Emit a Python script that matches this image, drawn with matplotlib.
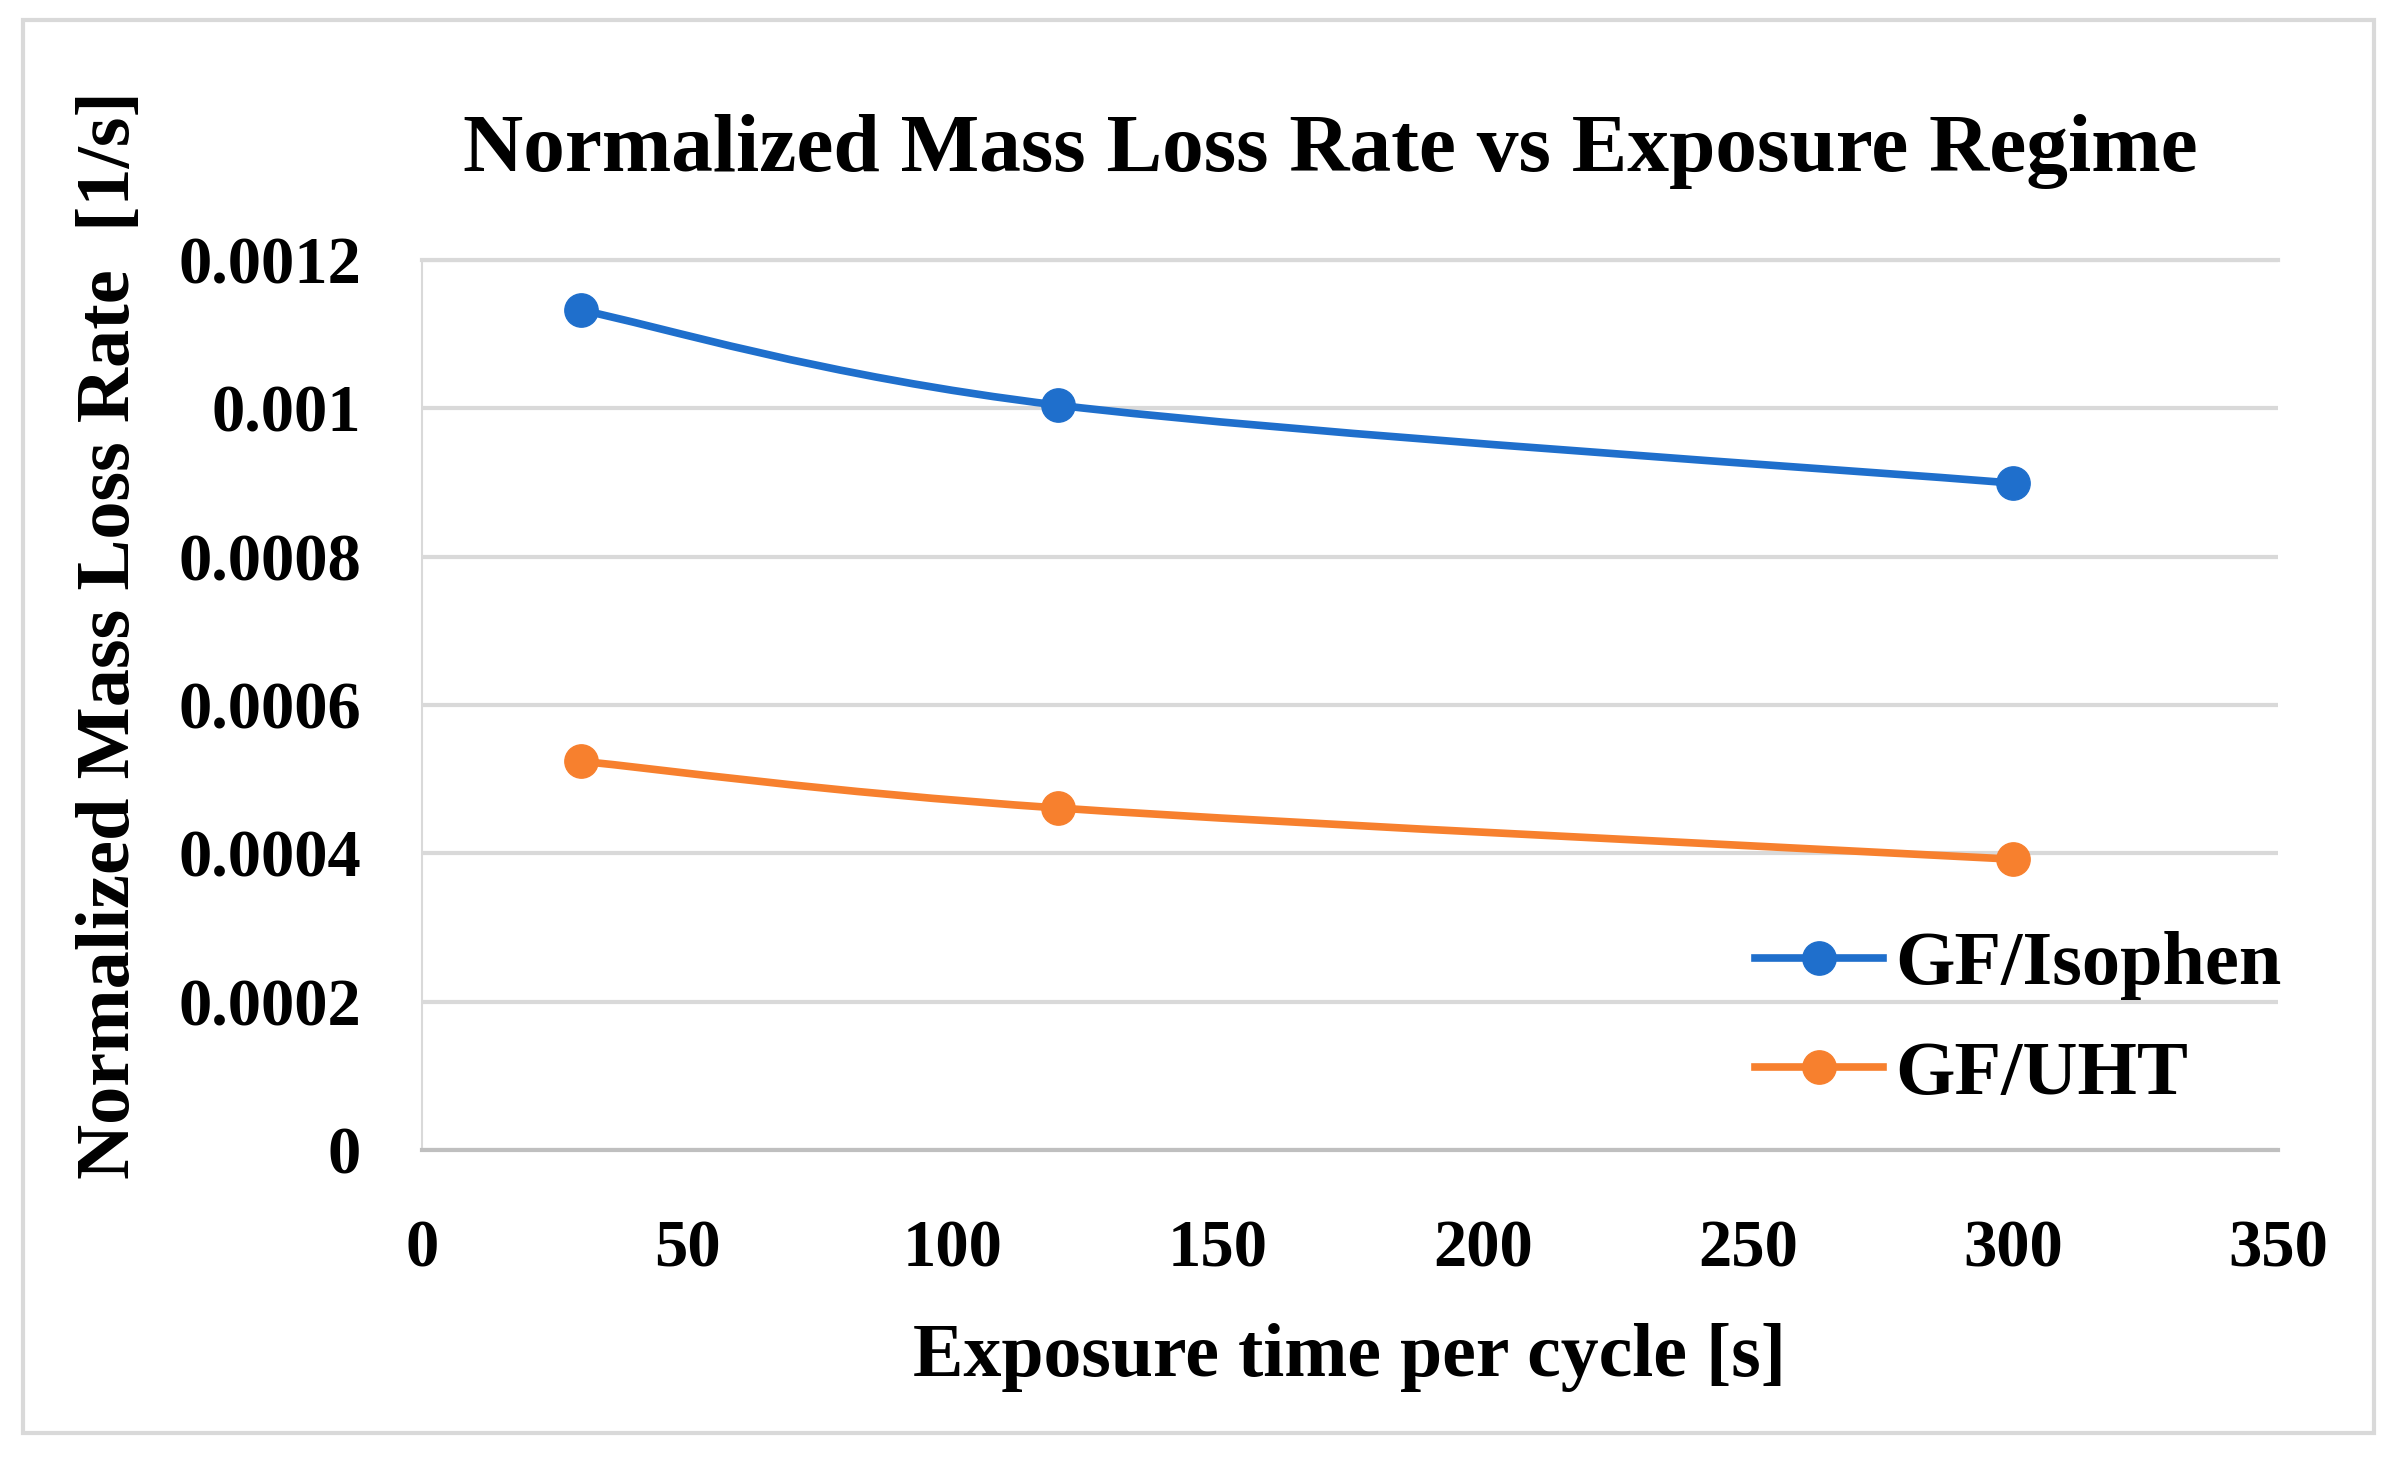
import matplotlib
matplotlib.use("Agg")
import matplotlib.pyplot as plt
import numpy as np
from matplotlib.path import Path
from matplotlib.patches import PathPatch, Rectangle
from matplotlib.lines import Line2D

# values
exposure = [30, 120, 300]
isophen = [0.001132, 0.001004, 0.000899]
uht = [0.000524, 0.000461, 0.000392]
series_names = ["GF/Isophen", "GF/UHT"]
x_ticks = [0, 50, 100, 150, 200, 250, 300, 350]
y_ticks = [0, 0.0002, 0.0004, 0.0006, 0.0008, 0.001, 0.0012]
y_tick_labels = ["0", "0.0002", "0.0004", "0.0006", "0.0008", "0.001", "0.0012"]

BLUE = "#1f6fcc"
ORANGE = "#f7802e"
GRID = "#d9d9d9"

plt.rcParams["font.family"] = ["Liberation Serif", "DejaVu Serif"]
plt.rcParams["font.weight"] = "bold"


def smooth_path(xs, ys):
    # excel-like smoothed line: catmull-rom segments as cubic bezier
    pts = np.column_stack([xs, ys]).astype(float)
    n = len(pts)
    verts = [pts[0]]
    codes = [Path.MOVETO]
    for i in range(n - 1):
        p0 = pts[i - 1] if i > 0 else pts[i]
        p1 = pts[i]
        p2 = pts[i + 1]
        p3 = pts[i + 2] if i + 2 < n else pts[i + 1]
        c1 = p1 + (p2 - p0) / 6.0
        c2 = p2 - (p3 - p1) / 6.0
        verts += [c1, c2, p2]
        codes += [Path.CURVE4] * 3
    return Path(verts, codes)


fig = plt.figure(figsize=(23.98, 14.57), dpi=100)
ax = fig.add_axes([0.176, 0.2107, 0.774, 0.611])

for ys, col, name in [(isophen, BLUE, series_names[0]), (uht, ORANGE, series_names[1])]:
    ax.add_patch(PathPatch(smooth_path(exposure, ys), facecolor="none",
                           edgecolor=col, lw=5.5, capstyle="round", zorder=3))
    ax.plot(exposure, ys, linestyle="none", marker="o", ms=24, color=col, zorder=4)

ax.set_xlim(0, 350)
ax.set_ylim(0, 0.0012)
ax.set_xticks(x_ticks)
ax.set_xticklabels([str(v) for v in x_ticks])
ax.set_yticks(y_ticks)
ax.set_yticklabels(y_tick_labels)
ax.grid(axis="y", color=GRID, lw=3)
ax.set_axisbelow(True)
ax.spines["right"].set_visible(False)
ax.spines["top"].set_color(GRID)
ax.spines["top"].set_linewidth(3)
ax.spines["left"].set_color(GRID)
ax.spines["left"].set_linewidth(1.5)
ax.spines["bottom"].set_color("#bfbfbf")
ax.spines["bottom"].set_linewidth(3)
ax.tick_params(axis="both", length=0, labelsize=48)
ax.tick_params(axis="x", pad=50)
ax.tick_params(axis="y", pad=44)

fig.text(0.5548, 0.8826, "Normalized Mass Loss Rate vs Exposure Regime",
         ha="center", va="baseline", fontsize=60, fontweight="bold")
fig.text(0.5626, 0.0556, "Exposure time per cycle [s]",
         ha="center", va="baseline", fontsize=54.5, fontweight="bold")
fig.text(0.0459, 0.564, "Normalized Mass Loss Rate  [1/s]", rotation=90,
         ha="center", va="center", fontsize=55, fontweight="bold")

handles = [Line2D([], [], color=BLUE, lw=5.5, marker="o", ms=24),
           Line2D([], [], color=ORANGE, lw=5.5, marker="o", ms=24)]
fig.legend(handles, series_names, loc="upper left", bbox_to_anchor=(0.732, 0.361),
           frameon=False, fontsize=55, handlelength=1.67, handletextpad=0.16,
           labelspacing=0.52, borderpad=0, borderaxespad=0)

fig.patches.append(Rectangle((0.0096, 0.0166), 0.9804, 0.9697, transform=fig.transFigure,
                             fill=False, edgecolor=GRID, lw=3))

fig.savefig("out.png", dpi=100, facecolor="white")
